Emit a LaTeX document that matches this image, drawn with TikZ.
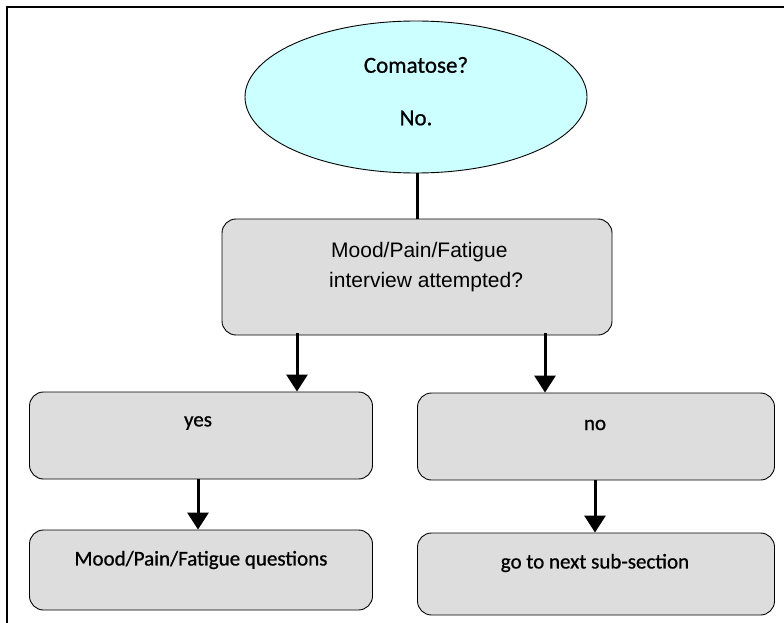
\documentclass[tikz,border=0pt]{standalone}
\usepackage{fontspec}
\setmainfont{Carlito}[FakeBold=0.8]
\newfontfamily\arialfont{Liberation Sans}
\usetikzlibrary{arrows.meta,shapes.geometric}
\definecolor{boxgray}{RGB}{221,221,221}
\definecolor{ellcyan}{RGB}{204,255,255}
\tikzset{
  flowbox/.style={draw=black, line width=0.9pt, fill=boxgray, rounded corners=14pt, inner sep=0pt},
  txt/.style={inner sep=0pt, font=\fontsize{21}{25}\selectfont},
  conn/.style={line width=3pt},
  arr/.style={line width=3pt, -{Triangle[length=17pt,width=21pt]}},
  frameline/.style={line width=1.8pt}
}
\begin{document}
\begin{tikzpicture}[x=1pt,y=-1pt]
\useasboundingbox (0,0) rectangle (784,623);
% frame
\coordinate (fr1) at (784,7);
\coordinate (fr2) at (7,7);
\coordinate (fr3) at (7,623);
\draw[frameline] (fr1) -- (fr2) -- (fr3);
% ellipse
\node[ellipse, draw=black, line width=0.9pt, fill=ellcyan, minimum width=342pt, minimum height=152pt, inner sep=0pt] (ell) at (416,97) {};
\node[txt, font=\fontsize{23}{27}\selectfont] (t1) at (416,65) {Comatose?};
\node[txt, font=\fontsize{23}{27}\selectfont] (t2) at (416,118) {No.};
% middle box
\node[flowbox, minimum width=390pt, minimum height=116pt] (mid) at (417,277) {};
\node[txt, anchor=west, font=\arialfont\fontsize{21}{25}\selectfont] (m1) at (331,252) {Mood/Pain/Fatigue};
\node[txt, anchor=west, font=\arialfont\fontsize{21}{25}\selectfont] (m2) at (329,282) {interview attempted?};
% second row
\node[flowbox, minimum width=343pt, minimum height=87pt] (yes) at (201,435.5) {};
\node[txt] (yt) at (198,423) {yes};
\node[flowbox, minimum width=357pt, minimum height=87pt] (no) at (596,436.5) {};
\node[txt] (nt) at (595,425) {no};
% third row
\node[flowbox, minimum width=343pt, minimum height=80pt] (q) at (201,570) {};
\node[txt] (qt) at (201,560) {Mood/Pain/Fatigue questions};
\node[flowbox, minimum width=357pt, minimum height=82pt] (nx) at (596,574) {};
\node[txt] (nxt) at (595,563) {go to next sub-section};
% connectors
\draw[conn] (ell.south -| mid.north) -- (mid.north);
\draw[arr] ([xshift=-120pt,yshift=2pt]mid.south) -- ([xshift=-120pt]mid.south |- yes.north);
\draw[arr] ([xshift=128pt,yshift=2pt]mid.south) -- ([xshift=128pt]mid.south |- no.north);
\draw[arr] ([xshift=-3pt]yes.south) -- ([xshift=-3pt]yes.south |- q.north);
\draw[arr] ([xshift=-1pt]no.south) -- ([xshift=-1pt]no.south |- nx.north);
\end{tikzpicture}
\end{document}
